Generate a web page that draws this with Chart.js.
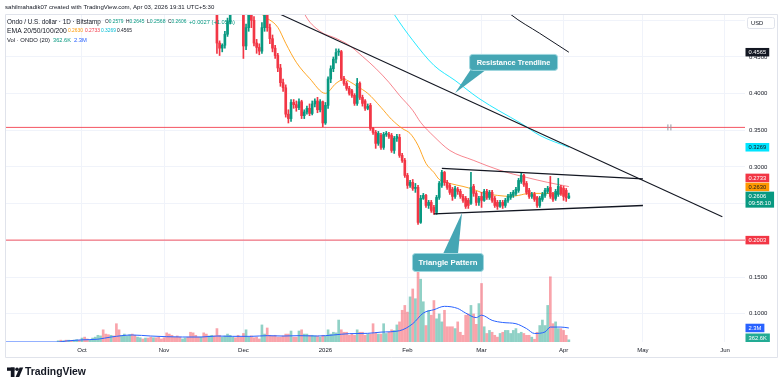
<!DOCTYPE html>
<html><head><meta charset="utf-8">
<script src="https://cdn.jsdelivr.net/npm/chart.js@4.4.1/dist/chart.umd.min.js"></script>
<style>html,body{margin:0;padding:0;background:#fff;overflow:hidden}canvas{display:block}</style>
</head><body><canvas id="c" width="783" height="388" style="width:783px;height:388px"></canvas>
<script>
// ---------------- DATA ----------------
// x values are day numbers counted from 2025-10-01 (day 0)
const monthTickDays = [0,31,61,92,123,151,182,212,243];
const monthTickLabels = ['Oct','Nov','Dec','2026','Feb','Mar','Apr','May','Jun'];
const priceTicks = [0.10,0.15,0.20,0.25,0.30,0.35,0.40,0.45,0.50];

const candleFirstDay = 51; // 2025-11-21
const open = [.520,.469,.462,.466,.481,.498,.520,.535,.525,.522,
.515,.465,.490,.515,.500,.469,.463,.458,.490,.510,
.490,.475,.462,.452,.435,.415,.408,.372,.366,.388,
.385,.381,.389,.370,.375,.380,.373,.386,.390,.378,
.389,.360,.384,.420,.434,.447,.4567,.4573,.4208,.414,
.4072,.404,.3976,.3867,.414,.3949,.390,.380,.384,.3526,
.3472,.3322,.3431,.3267,.3445,.3445,.3431,.3226,.339,.3404,
.3158,.309,.2885,.2749,.279,.2708,.2722,.2245,.2572,.2613,
.2476,.2517,.2449,.2381,.2585,.2749,.2926,.279,.2749,.2695,
.2599,.2695,.2667,.2599,.2572,.2545,.2504,.2736,.264,.2517,
.2599,.2545,.2667,.2585,.2654,.2572,.2517,.2463,.2517,.2476,
.2545,.2585,.2613,.264,.2681,.2803,.2885,.2776,.2681,.2599,
.2626,.2585,.2476,.2558,.2613,.2667,.2722,.2626,.2572,.2626,
.2722,.2708,.2681,.2579];
const high = [.525,.472,.468,.485,.503,.530,.545,.548,.535,.532,
.520,.495,.530,.530,.505,.474,.468,.497,.520,.515,
.495,.480,.466,.455,.440,.420,.412,.378,.392,.392,
.390,.393,.391,.378,.383,.386,.390,.393,.395,.392,
.390,.388,.423,.438,.450,.461,.461,.459,.4235,.4167,
.410,.406,.400,.4208,.416,.398,.392,.386,.3867,.354,
.3499,.3485,.3458,.3472,.3485,.3472,.3458,.3417,.3445,.3445,
.3185,.3117,.2913,.2817,.283,.2776,.2749,.2613,.264,.2626,
.2545,.2545,.2476,.2613,.2803,.2954,.294,.2817,.2776,.2722,
.2736,.2722,.2695,.2626,.2599,.2572,.2926,.2763,.2667,.2599,
.2654,.2695,.2695,.2681,.2681,.2599,.2545,.2545,.2545,.2572,
.2626,.2654,.2681,.2722,.2845,.2926,.2899,.2803,.2708,.2654,
.2654,.2599,.2599,.2654,.2708,.2736,.2872,.2654,.2695,.2845,
.2749,.2736,.2708,.2645];
const low = [.455,.452,.457,.462,.478,.495,.512,.515,.510,.508,
.448,.460,.485,.490,.465,.455,.453,.455,.485,.485,
.468,.457,.448,.430,.410,.403,.368,.360,.362,.380,
.376,.378,.366,.366,.372,.370,.371,.382,.374,.375,
.355,.358,.380,.415,.430,.442,.452,.418,.4113,.4045,
.398,.395,.384,.384,.392,.383,.377,.378,.3499,.3445,
.3254,.3295,.324,.324,.3417,.339,.3199,.3185,.3349,.3131,
.3063,.2858,.2708,.2722,.2681,.2654,.2217,.2231,.2558,.2449,
.2435,.2381,.2354,.2354,.2558,.2722,.2749,.2695,.2626,.2545,
.2572,.2626,.2572,.2517,.2435,.2435,.249,.26,.2476,.2476,
.2449,.2531,.2558,.2558,.2517,.2449,.2422,.2449,.2435,.2449,
.2517,.2558,.2585,.2613,.2654,.2776,.2736,.2626,.2572,.2572,
.2531,.2449,.2449,.2531,.2585,.264,.2572,.2531,.2545,.2599,
.2613,.2545,.2531,.2568];
const close = [.469,.462,.466,.481,.498,.520,.535,.525,.522,.515,
.465,.490,.515,.500,.469,.463,.458,.490,.510,.490,
.475,.462,.452,.435,.415,.408,.372,.366,.388,.385,
.381,.389,.370,.375,.380,.373,.386,.390,.378,.389,
.360,.384,.420,.434,.447,.456,.4573,.4208,.414,.4072,
.4004,.3976,.3867,.414,.3949,.3867,.380,.3826,.3526,.3472,
.3322,.3458,.3267,.3445,.3458,.3417,.3226,.339,.3417,.3158,
.309,.2885,.2749,.279,.2708,.2722,.2245,.2572,.2613,.2476,
.2517,.2408,.2381,.2585,.2776,.2926,.279,.2722,.2654,.2599,
.2708,.2667,.2599,.2545,.2463,.2476,.2722,.264,.2517,.2572,
.2545,.2667,.2585,.2654,.2545,.2476,.2463,.2517,.2476,.2545,
.2599,.2626,.2654,.2695,.2817,.2885,.2763,.2654,.2599,.2626,
.2558,.2476,.2572,.2626,.2681,.2708,.2599,.2558,.2667,.2736,
.264,.2599,.2579,.2606];

const volumeFirstDay = -9; // volume in millions of ONDO
const volume = [0.2,0.3,0.2,0.3,0.3,0.2,0.3,0.4,0.3,
0.65,0.8,0.5,0.3,0.65,0.8,1.1,1.0,2.0,1.3,
1.2,1.1,1.0,3.0,2.0,1.1,1.3,1.0,1.2,1.3,
1.1,0.8,0.7,0.5,0.65,0.65,0.8,0.7,0.7,0.8,
0.5,0.7,1.5,1.3,1.1,0.8,1.0,0.8,0.5,0.65,
0.8,1.6,1.5,1.1,0.8,0.8,1.5,1.3,1.0,1.1,
1.0,2.2,1.1,0.8,1.0,1.3,1.1,0.8,0.7,1.1,
0.8,1.4,2.0,0.8,1.0,0.7,0.8,0.5,2.8,1.3,
2.3,1.1,1.0,1.1,0.8,0.8,1.0,1.3,1.3,1.8,
0.8,0.8,1.8,2.0,1.3,1.3,1.1,1.1,1.0,1.0,
0.8,1.1,1.0,2.0,1.3,1.6,1.5,3.6,2.0,1.6,
1.6,1.1,1.3,1.1,2.0,1.6,1.6,1.1,1.3,1.3,
3.0,1.5,1.3,1.3,3.0,1.4,1.6,2.0,1.9,2.8,
3.3,5.2,6.0,4.9,7.4,8.7,7.1,11.7,10.3,6.6,
2.7,5.2,4.4,6.8,3.8,4.6,3.3,5.2,2.5,2.5,
2.5,2.2,3.3,1.6,1.1,4.4,4.6,6.0,4.6,2.9,
6.3,9.6,2.5,1.4,1.9,1.6,1.1,0.8,1.4,1.6,
1.9,1.9,1.4,1.9,2.2,1.4,1.6,1.4,1.1,1.1,
0.8,0.45,1.6,2.7,3.6,2.7,6.0,10.7,3.0,3.3,
2.2,2.2,1.9,1.1,0.3626];
const volumeDirBeforeCandles = 'grgrgrggr'+'grrgggggrr'+'rgrrrggggr'+'rggrgrrgrr'+'rrrrrrrrgg'+'rrrrrgrrgg'+'r';

const volumeMA = [[-29,0],[-9,0],[-6,0.16],[0,0.35],[6,0.46],[11,0.82],[19,1.15],[26,0.98],[32,0.87],[38,0.82],[45,0.82],[51,0.98],[57,0.93],[64,0.93],[70,1.04],[76,0.98],[82,1.04],[89,0.98],[95,1.15],[101,1.37],[108,1.42],[113,1.62],[120,1.85],[125,3.0],[129,4.75],[133,5.3],[137,5.85],[142,5.5],[145,4.75],[149,4.0],[151,4.4],[155,3.55],[159,3.2],[164,3.0],[168,2.2],[171,1.4],[175,1.65],[177,2.45],[181,2.45],[184,2.3]];

const ma20 = [[65,0.5217],[68,0.5081],[74,0.4904],[77,0.4686],[81,0.4427],[86,0.4209],[92,0.4004],[96,0.414],[99,0.4195],[101,0.4167],[104,0.4099],[108,0.4004],[113,0.3813],[117,0.3649],[121,0.3526],[124,0.3458],[127,0.3295],[130,0.3049],[133,0.2926],[135,0.2831],[139,0.2776],[144,0.2735],[148,0.2694],[152,0.264],[157,0.2613],[162,0.2599],[165,0.2613],[169,0.264],[175,0.264],[184,0.2630]];
const ma50 = [[82,0.53],[84,0.5095],[90,0.4849],[96,0.4754],[101,0.4658],[106,0.4508],[111,0.4345],[116,0.4154],[120,0.3976],[125,0.3772],[128,0.3608],[133,0.3417],[139,0.3226],[148,0.309],[158,0.2954],[168,0.2858],[176,0.279],[184,0.2733]];
const ma100 = [[116,0.5204],[118,0.5081],[125,0.4727],[133,0.4386],[141,0.418],[150,0.3935],[158,0.3758],[166,0.3594],[173,0.3431],[184,0.3269]];
const ma200 = [[160,0.515],[162,0.5081],[173,0.4822],[184,0.4565]];

const resistanceTrendline = [[74,0.5098],[242,0.232]];
const triangleUpper = [[136,0.298],[212,0.2837]];
const triangleLower = [[133,0.236],[212,0.2475]];
const horizontalLevels = [0.354, 0.2003];

const calloutTexts = ['Resistance Trendline','Triangle Pattern'];
const calloutAnchors = [[141,0.401],[143.6,0.2373]]; // [day, price] of each pointer tip

// ---------------- RENDER ----------------
const X_MIN = -29.1, X_MAX = 250.57, Y_MIN = 0.0614, Y_MAX = 0.5086, VOL_MAX = 53.8;
const UP='#089981', DOWN='#f23645', VOL_UP='rgba(8,153,129,0.45)', VOL_DOWN='rgba(242,54,69,0.45)';
const FONT = "'Liberation Sans', Arial, Helvetica, sans-serif";
const DARK = '#131722';

const candleDays = open.map((_, i) => candleFirstDay + i);
const isUp = i => close[i] >= open[i];
const bodyData = candleDays.map((d,i)=>({x:d, y:[open[i], close[i]]}));
const wickData = candleDays.map((d,i)=>({x:d, y:[low[i], high[i]]}));
const candleColors = open.map((_,i)=> isUp(i)?UP:DOWN);
const volData = volume.map((v,i)=>({x:volumeFirstDay+i, y:v}));
const volColors = volume.map((v,i)=>{const ci = volumeFirstDay+i-candleFirstDay; const up = ci>=0 ? isUp(ci) : volumeDirBeforeCandles[i]==='g'; return up?VOL_UP:VOL_DOWN;});
const pts = a => a.map(([x,y])=>({x,y}));

function lineDs(data, color, width, order, yAxisID='y', smooth=true){
  return {type:'line', data:pts(data), borderColor:color, borderWidth:width, pointRadius:0, fill:false,
    cubicInterpolationMode: smooth?'monotone':'default', tension:0, order, yAxisID};
}

function setFont(ctx,size,weight){ ctx.font = `${weight||'normal'} ${size}px ${FONT}`; }
function fitFont(ctx,text,width,weight){ setFont(ctx,10,weight); const w=ctx.measureText(text).width; const s=10*width/w; setFont(ctx,s,weight); return s; }
function fitText(ctx,text,x,y,width,color,weight){ fitFont(ctx,text,width,weight); ctx.fillStyle=color; ctx.fillText(text,x,y); }
const fmt4 = v => v.toFixed(4);
const fmtVol = m => m>=1 ? (Math.round(m*10)/10)+'M' : (Math.round(m*10000)/10).toFixed(1)+'K';

const overlay = {
  id:'overlay',
  afterDatasetsDraw(chart){
    const {ctx, scales:{x,y}} = chart;
    ctx.save();
    const hx = x.getPixelForValue(222), hy = y.getPixelForValue(horizontalLevels[0]);
    ctx.strokeStyle='#9598a1'; ctx.lineWidth=1;
    ctx.beginPath(); ctx.moveTo(hx-1.5,hy-3); ctx.lineTo(hx-1.5,hy+3); ctx.moveTo(hx+1.5,hy-3); ctx.lineTo(hx+1.5,hy+3); ctx.stroke();
    const bg='#45a6b4', bd='#9fd8e0';
    const specs = [
      {dx:14, dy:-39, w:88, h:16, b1:16, b2:32, tw:74},
      {dx:-50, dy:40, w:71, h:18, b1:-19, b2:-4, tw:59}
    ];
    calloutTexts.forEach((t,i)=>{
      const tx = x.getPixelForValue(calloutAnchors[i][0]), ty = y.getPixelForValue(calloutAnchors[i][1]);
      const s = specs[i];
      const bx = tx+s.dx, by = ty+s.dy;
      const baseY = s.dy<0 ? by+s.h-1 : by+1;
      ctx.fillStyle=bg;
      ctx.beginPath(); ctx.moveTo(tx,ty); ctx.lineTo(tx+s.b1,baseY); ctx.lineTo(tx+s.b2,baseY); ctx.closePath(); ctx.fill();
      ctx.beginPath(); ctx.roundRect(bx+0.5,by+0.5,s.w,s.h,3); ctx.fill();
      ctx.strokeStyle=bd; ctx.lineWidth=1; ctx.stroke();
      ctx.fillStyle='#ffffff'; fitFont(ctx,t,s.tw,'600'); ctx.textAlign='center'; ctx.textBaseline='middle';
      ctx.fillText(t, bx+s.w/2+0.5, by+s.h/2+1);
    });
    ctx.restore();
  },
  afterDraw(chart){
    const {ctx, scales:{y,y2}, chartArea:a} = chart;
    ctx.save();
    ctx.strokeStyle='#e0e3eb'; ctx.lineWidth=1;
    ctx.beginPath(); ctx.moveTo(5.5,14.5); ctx.lineTo(777.5,14.5); ctx.lineTo(777.5,357.5); ctx.lineTo(5.5,357.5); ctx.closePath(); ctx.stroke();
    ctx.textAlign='left'; ctx.textBaseline='middle';
    fitText(ctx,'sahilmahadik07 created with TradingView.com, Apr 03, 2026 19:31 UTC+5:30',5,7,210,DARK);
    // legend (each segment fitted to its width in the reference)
    const n = close.length-1;
    fitText(ctx,'Ondo / U.S. dollar · 1D · Bitstamp',7,22,94,DARK);
    const ohlc=[['O',open[n]],['H',high[n]],['L',low[n]],['C',close[n]]];
    const ox=[105,126,147,168];
    ohlc.forEach(([k,v],i)=>{
      const full=k+fmt4(v); fitFont(ctx,full,18.5);
      ctx.fillStyle=DARK; ctx.fillText(k,ox[i],22);
      const kw=ctx.measureText(k).width; ctx.fillStyle=UP; ctx.fillText(fmt4(v),ox[i]+kw,22);
    });
    const ch = close[n]-close[n-1];
    const sg = ch>=0?'+':'−';
    fitText(ctx,sg+Math.abs(ch).toFixed(4)+' ('+sg+Math.abs(ch/close[n-1]*100).toFixed(2)+'%)',189,22,46,UP);
    fitText(ctx,'EMA 20/50/100/200',7,31,60,DARK);
    const mas=[[ma20,'#ff9800'],[ma50,'#f23645'],[ma100,'#00bcd4'],[ma200,DARK]];
    const mx=[68,85,101,117];
    mas.forEach(([m,c],i)=>fitText(ctx,fmt4(m[m.length-1][1]),mx[i],31,15,c));
    fitText(ctx,'Vol · ONDO (20)',7,40,43,DARK);
    fitText(ctx,fmtVol(volume[volume.length-1]),53,40,18,UP);
    fitText(ctx,fmtVol(volumeMA[volumeMA.length-1][1]),74,40,13,'#2962ff');
    // USD box
    ctx.fillStyle='#fff'; ctx.strokeStyle='#e0e3eb';
    ctx.beginPath(); ctx.roundRect(747.5,17.5,27,11,2); ctx.fill(); ctx.stroke();
    setFont(ctx,5.8); ctx.fillStyle=DARK; ctx.fillText('USD',751,23);
    // price tags
    const priceTags = [
      {v:ma200[ma200.length-1][1], bg:DARK, fg:'#fff'},
      {v:ma100[ma100.length-1][1], bg:'#00e5ff', fg:DARK},
      {v:ma50[ma50.length-1][1], bg:'#f23645', fg:'#fff'},
      {v:ma20[ma20.length-1][1], bg:'#ff9800', fg:DARK},
      {v:close[n], bg:UP, fg:'#fff', extra:'09:58:10'},
      {v:horizontalLevels[1], bg:'#f23645', fg:'#fff'}
    ].map(t=>({...t, yc:y.getPixelForValue(t.v), text:fmt4(t.v)}));
    const volTags = [
      {yc:y2.getPixelForValue(volumeMA[volumeMA.length-1][1]), text:fmtVol(volumeMA[volumeMA.length-1][1]), bg:'#2962ff', fg:'#fff'},
      {yc:y2.getPixelForValue(volume[volume.length-1]), text:fmtVol(volume[volume.length-1]), bg:'#22ab94', fg:'#fff'}
    ];
    const drawTags=(tags,limit0)=>{
      tags.sort((p,q)=>q.yc-p.yc);
      let limit=limit0;
      tags.forEach(t=>{
        const h = t.extra?16:8.5;
        let top = t.yc-4.25;
        if(top+h>limit) top = limit-h;
        limit = top-0.5;
        setFont(ctx,5.8);
        const w = Math.max(ctx.measureText(t.text).width, t.extra?ctx.measureText(t.extra).width:0)+6;
        ctx.fillStyle=t.bg; ctx.fillRect(745.5,top,w,h);
        ctx.fillStyle=t.fg; ctx.textBaseline='middle';
        ctx.fillText(t.text,748.5,top+4.4);
        if(t.extra) ctx.fillText(t.extra,748.5,top+12);
      });
    };
    drawTags(priceTags, 1e9);
    drawTags(volTags, a.bottom);
    // TradingView logo
    ctx.fillStyle=DARK;
    ctx.fillRect(7,367.5,7.5,3.3); ctx.fillRect(10.8,367.5,3.7,9.5);
    ctx.beginPath(); ctx.arc(17,369.3,1.8,0,Math.PI*2); ctx.fill();
    ctx.beginPath(); ctx.moveTo(19.6,367.5); ctx.lineTo(23.2,367.5); ctx.lineTo(19.2,377); ctx.lineTo(15.6,377); ctx.closePath(); ctx.fill();
    fitFont(ctx,'TradingView',61,'bold'); ctx.textBaseline='middle'; ctx.fillText('TradingView',25,372.5);
    ctx.restore();
  }
};

const datasets = [
  {type:'bar', data:volData, yAxisID:'y2', backgroundColor:volColors, borderWidth:0, barThickness:2, grouped:false, order:20},
  lineDs(volumeMA,'#2962ff',1,19,'y2'),
  lineDs([[X_MIN,horizontalLevels[0]],[X_MAX,horizontalLevels[0]]],'rgba(242,54,69,0.85)',1,18,'y',false),
  lineDs([[X_MIN,horizontalLevels[1]],[X_MAX,horizontalLevels[1]]],'rgba(242,54,69,0.85)',1,18,'y',false),
  lineDs(ma200,'#131722',1,17),
  lineDs(ma100,'rgba(0,229,255,0.85)',1,16),
  lineDs(ma50,'rgba(242,54,69,0.6)',1,15),
  lineDs(ma20,'rgba(255,152,0,0.85)',1,14),
  {type:'bar', data:wickData, backgroundColor:candleColors, borderWidth:0, barThickness:1, grouped:false, order:12},
  {type:'bar', data:bodyData, backgroundColor:candleColors, borderWidth:0, barThickness:2, minBarLength:1, grouped:false, order:11},
  lineDs(resistanceTrendline,'#131722',1.1,5,'y',false),
  lineDs(triangleUpper,'#131722',1.3,5,'y',false),
  lineDs(triangleLower,'#131722',1.3,5,'y',false)
];

new Chart(document.getElementById('c'), {
  type:'bar',
  data:{datasets},
  options:{
    responsive:false, animation:false, devicePixelRatio:1,
    layout:{padding:{left:5,top:14,right:6,bottom:31}},
    plugins:{legend:{display:false}, tooltip:{enabled:false}},
    events:[],
    scales:{
      x:{type:'linear', min:X_MIN, max:X_MAX, offset:false,
        afterBuildTicks:s=>{s.ticks=monthTickDays.map(v=>({value:v}));},
        afterFit:s=>{s.height=15;},
        ticks:{autoSkip:false, maxRotation:0, padding:4.5, color:DARK, font:{size:6, family:FONT},
          callback:v=>{const i=monthTickDays.indexOf(v); return i>=0?monthTickLabels[i]:'';}},
        grid:{color:'#f0f3fa', drawTicks:false, offset:false},
        border:{display:false}},
      y:{type:'linear', position:'right', min:Y_MIN, max:Y_MAX,
        afterBuildTicks:s=>{s.ticks=priceTicks.map(v=>({value:v}));},
        afterFit:s=>{s.width=32;},
        ticks:{padding:4, color:DARK, font:{size:6, family:FONT}, callback:v=>v.toFixed(4)},
        grid:{color:'#f0f3fa', drawTicks:false},
        border:{display:false}},
      y2:{type:'linear', display:false, min:0, max:VOL_MAX}
    }
  },
  plugins:[overlay]
});
</script></body></html>
